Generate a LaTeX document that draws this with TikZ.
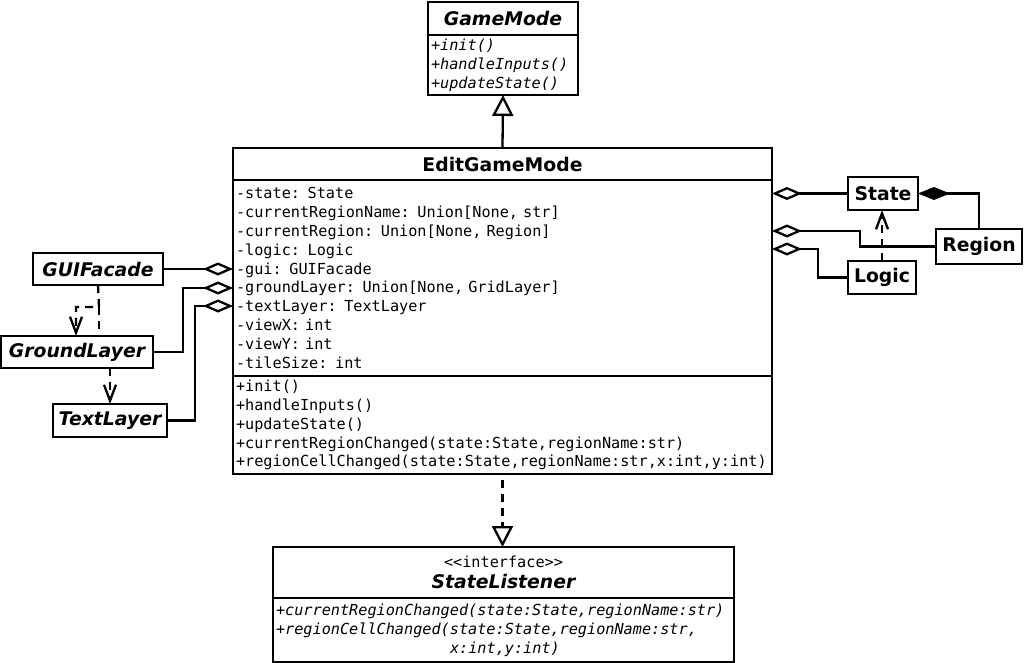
\documentclass[tikz,border=0pt]{standalone}
\usepackage{fontspec}
\setmainfont{DejaVu Sans}
\newfontfamily\monofont{DejaVu Sans Mono}
\usetikzlibrary{arrows.meta}
\newcommand{\cls}[1]{{\fontsize{18.8}{22}\selectfont\bfseries #1}}
\newcommand{\acls}[1]{{\fontsize{18.8}{22}\selectfont\bfseries\itshape #1}}
\newcommand{\mem}{\monofont\fontsize{15.2}{18.9}\selectfont}

\begin{document}
\begin{tikzpicture}[x=1pt,y=-1pt]
    \tikzstyle{box}=[draw,line width=2.3pt,anchor=north west,inner sep=0pt,outer sep=0pt]
    \tikzstyle{members}=[box,align=left,inner xsep=3pt,font=\mem]
    \tikzstyle{agg}=[line width=2.3pt,-{Diamond[open,length=30pt,width=13pt]}]
    \tikzstyle{comp}=[line width=2.3pt,-{Diamond[length=32pt,width=13pt]}]
    \tikzstyle{inherit}=[line width=2.3pt,-{Triangle[open,length=21pt,width=21pt]}]
    \tikzstyle{dep}=[line width=2.3pt,dash pattern=on 8pt off 6pt,-{Straight Barb[length=16pt,width=12pt]}]

    \useasboundingbox (0,0) rectangle (1024,663);

    % GameMode
    \node[box,minimum width=150,minimum height=33] (gm) at (428,2) {\acls{GameMode}};
    \node[members,text width=144pt,minimum height=60] (gm-ops) at (gm.south west)
        {\itshape +init()\\\itshape +handleInputs()\\\itshape +updateState()};

    % EditGameMode
    \node[box,minimum width=539,minimum height=32] (egm) at (233,148) {\cls{EditGameMode}};
    \node[members,text width=533pt,minimum height=196] (egm-attr) at (egm.south west)
        {-state: State\\-currentRegionName: Union[None, str]\\-currentRegion: Union[None, Region]\\
         -logic: Logic\\-gui: GUIFacade\\-groundLayer: Union[None, GridLayer]\\-textLayer: TextLayer\\
         -viewX: int\\-viewY: int\\-tileSize: int};
    \node[members,text width=533pt,minimum height=98] (egm-ops) at (egm-attr.south west)
        {+init()\\+handleInputs()\\+updateState()\\
         +currentRegionChanged(state:State,regionName:str)\\
         +regionCellChanged(state:State,regionName:str,x:int,y:int)};

    % StateListener
    \node[box,minimum width=461,minimum height=51,align=center,font=\fontsize{18.8}{21}\selectfont] (sl) at (273,547)
        {{\mem <<interface>>}\\\acls{StateListener}};
    \node[members,text width=455pt,minimum height=64] (sl-ops) at (sl.south west)
        {\itshape +currentRegionChanged(state:State,regionName:str)\\
         \itshape +regionCellChanged(state:State,regionName:str,\\
         \hspace*{174pt}\itshape x:int,y:int)};

    % small classes
    \node[box,minimum width=130,minimum height=32] (gui) at (33,253) {\acls{GUIFacade}};
    \node[box,minimum width=152,minimum height=32] (ground) at (1,336) {\acls{GroundLayer}};
    \node[box,minimum width=114,minimum height=33] (text) at (53,404) {\acls{TextLayer}};
    \node[box,minimum width=70,minimum height=33] (state) at (848,177) {\cls{State}};
    \node[box,minimum width=86,minimum height=35] (region) at (936,229) {\cls{Region}};
    \node[box,minimum width=68,minimum height=33] (logic) at (848,261) {\cls{Logic}};

    \coordinate (egm-ground) at (233,288);
    \coordinate (egm-text) at (233,306);
    \coordinate (egm-region) at (772,231);
    \coordinate (egm-logic) at (772,249);
    \coordinate (gl-bend) at (99,307);
    \coordinate (ground-in) at (76,336);

    \draw[inherit] (egm.north) -- (gm-ops.south);
    \draw[inherit,dash pattern=on 8pt off 6pt,shorten <=6pt] (egm-ops.south) -- (egm-ops.south |- sl.north);

    \draw[agg] (gui.east) -- (gui.east -| egm-attr.west);
    \draw[agg] (ground.east) -- ++(30,0) |- (egm-ground);
    \draw[agg] (text.east) -- ++(28,0) |- (egm-text);
    \draw[agg] (state.west) -- (state.west -| egm-attr.east);
    \draw[agg] (region.west) -- ++(-76,0) |- (egm-region);
    \draw[agg] (logic.west) -- ++(-30,0) |- (egm-logic);
    \draw[comp] (region.north) |- (state.east);

    \draw[dep] (logic.north) -- (logic.north |- state.south);
    \draw[dep] (gui.south) -- (gl-bend) -| (ground-in);
    \draw[line width=2.3pt,dash pattern=on 8pt off 6pt] (gl-bend) -- (gl-bend |- ground.north);
    \draw[dep] (text.north |- ground.south) -- (text.north);
\end{tikzpicture}
\end{document}
